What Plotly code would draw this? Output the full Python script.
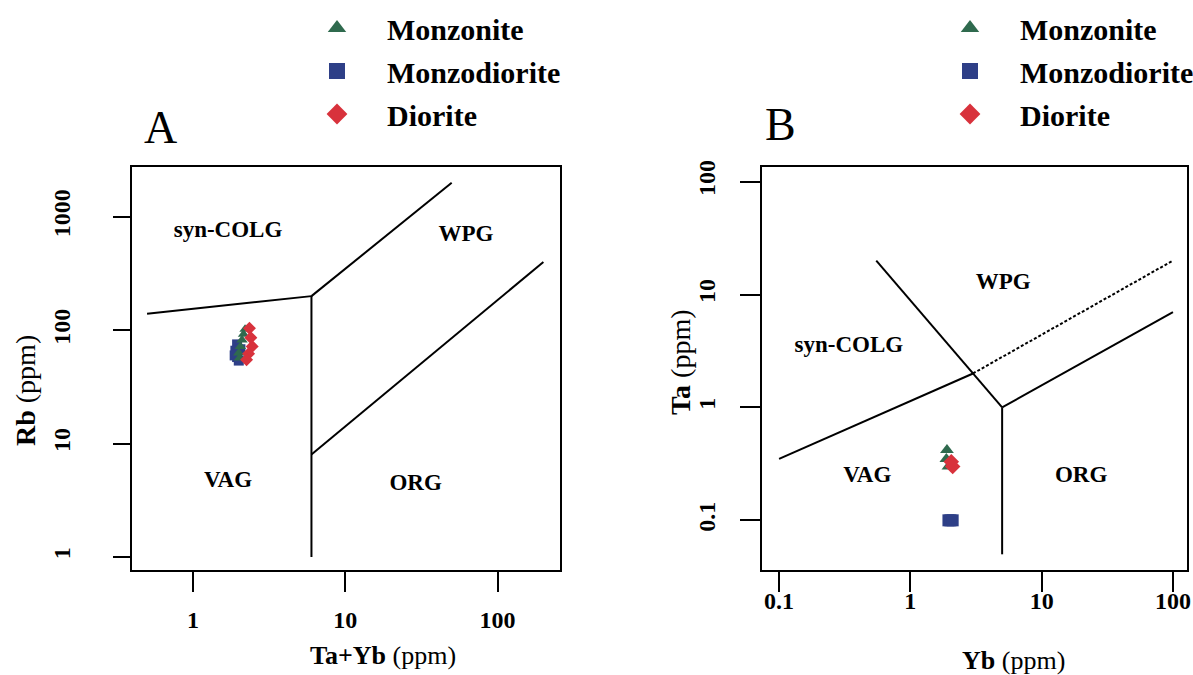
import numpy as np
import plotly.graph_objects as go

W, H = 1193, 675

# ---------------- data ----------------
# Panel A: Rb vs (Ta+Yb)
A_monzonite_x = [2.2, 2.15, 2.1, 2.05, 2.0, 2.02]
A_monzonite_y = [102, 92, 82, 72, 63, 57]
A_monzodiorite_x = [1.95, 1.9, 1.95, 2.0, 1.88, 2.05]
A_monzodiorite_y = [75, 66, 58, 54, 60, 68]
A_diorite_x = [2.35, 2.4, 2.45, 2.32, 2.25]
A_diorite_y = [104, 86, 72, 62, 55]

# Panel B: Ta vs Yb
B_monzonite_x = [1.9, 1.88, 1.95]
B_monzonite_y = [0.42, 0.35, 0.3]
B_monzodiorite_x = [1.95, 2.02, 2.1]
B_monzodiorite_y = [0.1, 0.1, 0.1]
B_diorite_x = [2.1, 2.05]
B_diorite_y = [0.3, 0.33]

# Pearce et al. (1984) boundaries, panel A
A_synvag_x = [0.5, 6]
A_synvag_y = [140, 200]
A_synwpg_x = [6, 50]
A_synwpg_y = [200, 2000]
A_vert_x = [6, 6]
A_vert_y = [200, 1]
A_orgwpg_x = [6, 200]
A_orgwpg_y = [8, 400]

# panel B
B_synvag_x = [0.1, 3]
B_synvag_y = [0.35, 2]
B_wpgsyn_x = [0.55, 5]
B_wpgsyn_y = [20, 1]
B_dash_x = [3, 100]
B_dash_y = [2, 20]
B_vert_x = [5, 5]
B_vert_y = [1, 0.05]
B_orgwpg_x = [5, 100]
B_orgwpg_y = [1, 7]

A_labels = ["syn-COLG", "WPG", "VAG", "ORG"]
A_label_x = [1.7, 62, 1.7, 29]
A_label_y = [740, 690, 4.7, 4.4]
B_labels = ["WPG", "syn-COLG", "VAG", "ORG"]
B_label_x = [5.1, 0.34, 0.47, 20]
B_label_y = [12.5, 3.5, 0.245, 0.245]

A_xticks = [1, 10, 100]
A_yticks = [1, 10, 100, 1000]
B_xticks = [0.1, 1, 10, 100]
B_yticks = [0.1, 1, 10, 100]

names = ["Monzonite", "Monzodiorite", "Diorite"]
colors = ["#2f6a4e", "#2e3f87", "#d8323c"]
symbols = ["triangle-up", "square", "diamond"]

SERIF = "Liberation Serif"

fig = go.Figure()

def add_line(x, y, xa, ya, dash="solid"):
    fig.add_trace(go.Scatter(x=x, y=y, mode="lines", xaxis=xa, yaxis=ya,
                             line=dict(color="black", width=2, dash=dash),
                             showlegend=False, hoverinfo="skip"))

for x, y in [(A_synvag_x, A_synvag_y), (A_synwpg_x, A_synwpg_y),
             (A_vert_x, A_vert_y), (A_orgwpg_x, A_orgwpg_y)]:
    add_line(x, y, "x", "y")
for x, y in [(B_synvag_x, B_synvag_y), (B_wpgsyn_x, B_wpgsyn_y),
             (B_vert_x, B_vert_y), (B_orgwpg_x, B_orgwpg_y)]:
    add_line(x, y, "x2", "y2")
add_line(B_dash_x, B_dash_y, "x2", "y2", dash="3px,2px")

fig.add_trace(go.Scatter(x=A_label_x, y=A_label_y, text=A_labels, mode="text",
                         xaxis="x", yaxis="y", showlegend=False,
                         textfont=dict(family=SERIF, size=23, color="black", weight="bold")))
fig.add_trace(go.Scatter(x=B_label_x, y=B_label_y, text=B_labels, mode="text",
                         xaxis="x2", yaxis="y2", showlegend=False,
                         textfont=dict(family=SERIF, size=23, color="black", weight="bold")))

A_sets = [(A_monzonite_x, A_monzonite_y), (A_monzodiorite_x, A_monzodiorite_y), (A_diorite_x, A_diorite_y)]
B_sets = [(B_monzonite_x, B_monzonite_y), (B_monzodiorite_x, B_monzodiorite_y), (B_diorite_x, B_diorite_y)]
for i in [1, 0, 2]:
    fig.add_trace(go.Scatter(x=A_sets[i][0], y=A_sets[i][1], mode="markers", xaxis="x", yaxis="y",
                             marker=dict(symbol=symbols[i], color=colors[i], size=10, line=dict(width=0)),
                             showlegend=False, name=names[i]))
for i in [1, 0, 2]:
    fig.add_trace(go.Scatter(x=B_sets[i][0], y=B_sets[i][1], mode="markers", xaxis="x2", yaxis="y2",
                             marker=dict(symbol=symbols[i], color=colors[i], size=12, line=dict(width=0)),
                             showlegend=False, name=names[i]))

# legend entries
for lg in ["legend", "legend2"]:
    for i in range(3):
        fig.add_trace(go.Scatter(x=[None], y=[None], mode="markers", name=names[i],
                                 xaxis="x" if lg == "legend" else "x2",
                                 yaxis="y" if lg == "legend" else "y2",
                                 legend=lg, legendgroup=lg + str(i),
                                 marker=dict(symbol=symbols[i], color=colors[i], size=16, line=dict(width=0))))

def px2x(p):
    return p / W

def px2y(p):
    return 1 - p / H

yd = [px2y(570), px2y(167)]
axis_common = dict(type="log", showline=True, mirror=True, linecolor="black", linewidth=2,
                   ticks="outside", tickwidth=2, tickcolor="black", showgrid=False, zeroline=False,
                   tickfont=dict(family=SERIF, size=24, color="black", weight="bold"))

legend_common = dict(xanchor="left", yanchor="top", bgcolor="rgba(0,0,0,0)",
                     font=dict(family=SERIF, size=30, color="black", weight="bold"),
                     itemwidth=90, tracegroupgap=1)

fig.update_layout(
    width=W, height=H, margin=dict(l=0, r=0, t=0, b=0, autoexpand=False),
    paper_bgcolor="white", plot_bgcolor="white",
    xaxis=dict(axis_common, domain=[px2x(132), px2x(560)], range=[-0.40, 2.41], anchor="y",
               tickvals=A_xticks, ticktext=[str(v) for v in A_xticks], ticklen=20, ticklabelstandoff=7),
    yaxis=dict(axis_common, domain=yd, range=[-0.115, 3.44], anchor="x",
               tickvals=A_yticks, ticktext=[str(v) for v in A_yticks], ticklen=17, tickangle=-90,
               ticklabelstandoff=33),
    xaxis2=dict(axis_common, domain=[px2x(762), px2x(1187)], range=[-1.13, 2.107], anchor="y2",
                tickvals=B_xticks, ticktext=[str(v) for v in B_xticks], ticklen=20, ticklabelstandoff=-12),
    yaxis2=dict(axis_common, domain=yd, range=[-1.44, 2.13], anchor="x2",
                tickvals=B_yticks, ticktext=[str(v) for v in B_yticks], ticklen=20, tickangle=-90,
                ticklabelstandoff=15),
    legend=dict(legend_common, x=px2x(287), y=px2y(2)),
    legend2=dict(legend_common, x=px2x(920), y=px2y(2)),
)

ann = []
def a(text, x, y, size, angle=0):
    ann.append(dict(text=text, x=px2x(x), y=px2y(y), xref="paper", yref="paper",
                    xanchor="center", yanchor="middle", showarrow=False, textangle=angle,
                    font=dict(family=SERIF, size=size, color="black")))

a("A", 160, 127, 46)
a("B", 780, 125, 46)
a("<b>Rb</b> (ppm)", 26, 390, 28, -90)
a("<b>Ta+Yb</b> (ppm)", 383, 655, 26)
a("<b>Ta</b> (ppm)", 680, 362, 28, -90)
a("<b>Yb</b> (ppm)", 1013, 660, 26)
fig.update_layout(annotations=ann)

fig.write_html("out.html")
